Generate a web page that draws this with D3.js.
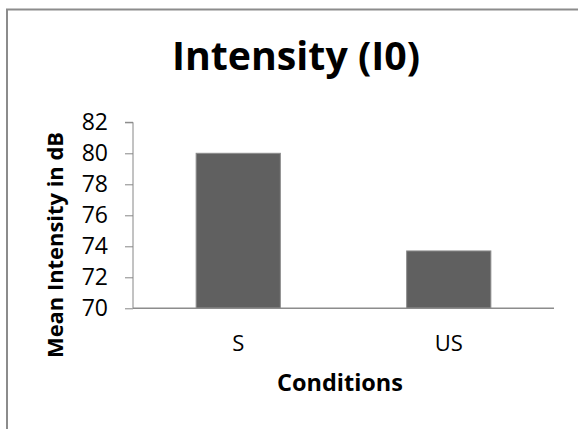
<!DOCTYPE html>
<html>
<head>
<meta charset="utf-8">
<script src="https://cdn.jsdelivr.net/npm/d3@7"></script>
<style>
  html, body { margin: 0; padding: 0; background: #fff; }
  svg { display: block; }
  text { font-family: "Open Sans", Lato, "DejaVu Sans", sans-serif; }
</style>
</head>
<body>
<svg id="chart" width="578" height="429"></svg>
<script>
const categories = ["S", "US"];
const values = [80.0, 73.7];
const yTicks = [70, 72, 74, 76, 78, 80, 82];
const titleText = "Intensity (I0)";
const xTitle = "Conditions";
const yTitle = "Mean Intensity in dB";

const svg = d3.select("#chart");
svg.append("rect").attr("width", 578).attr("height", 429).attr("fill", "#fff");

// outer frame (left and top edges visible)
svg.append("path")
  .attr("d", "M7,429V9.5H578")
  .attr("fill", "none")
  .attr("stroke", "#8c8c8c")
  .attr("stroke-width", 2);

const plot = { left: 133, right: 554, top: 122.3, bottom: 308.3 };

const y = d3.scaleLinear().domain([70, 82]).range([plot.bottom, plot.top]);
const x = d3.scaleBand().domain(categories).range([plot.left, plot.right])
  .paddingInner(0.6).paddingOuter(0.3);

// bars
svg.append("g").selectAll("rect").data(categories).join("rect")
  .attr("x", d => x(d))
  .attr("y", (d, i) => y(values[i]))
  .attr("width", x.bandwidth())
  .attr("height", (d, i) => y(70) - y(values[i]))
  .attr("fill", "#606060")
  .attr("stroke", "#8c8c8c")
  .attr("stroke-width", 1);

// fit a text element's font size to a target width
function fit(sel, target) {
  const node = sel.node();
  const fs = parseFloat(sel.style("font-size"));
  const w = node.getComputedTextLength();
  if (w > 0) sel.style("font-size", (fs * target / w).toFixed(2) + "px");
  return sel;
}

// y axis
const yAxis = d3.axisLeft(y).tickValues(yTicks).tickSize(8).tickPadding(17).tickFormat(d3.format("d"));
const gy = svg.append("g").attr("transform", `translate(${plot.left},0)`).call(yAxis);
gy.select(".domain").attr("stroke", "#868686").attr("d", `M-8,${plot.top}H0V${plot.bottom}`);
gy.selectAll(".tick line").attr("stroke", "#868686");
gy.selectAll(".tick text").attr("fill", "#000").style("font-size", "23px")
  .style("font-family", "'Open Sans', sans-serif");

// x axis
const xAxis = d3.axisBottom(x).tickSize(0).tickPadding(27);
const gx = svg.append("g").attr("transform", `translate(0,${plot.bottom})`).call(xAxis);
gx.select(".domain").attr("stroke", "#8c8c8c").attr("stroke-width", 1.5).attr("d", `M${plot.left},0H${plot.right}`);
gx.selectAll(".tick text").attr("fill", "#000").style("font-size", "22px")
  .style("font-family", "'Open Sans', sans-serif");

// titles
fit(svg.append("text")
  .attr("x", 296).attr("y", 70)
  .attr("text-anchor", "middle")
  .style("font-size", "36px").style("font-weight", "bold")
  .text(titleText), 248);

fit(svg.append("text")
  .attr("x", 340).attr("y", 390.7)
  .attr("text-anchor", "middle")
  .style("font-size", "22px").style("font-weight", "bold")
  .text(xTitle), 126);

fit(svg.append("text")
  .attr("transform", "translate(63,245) rotate(-90)")
  .attr("text-anchor", "middle")
  .style("font-size", "21px").style("font-weight", "bold")
  .text(yTitle), 226);
</script>
</body>
</html>
